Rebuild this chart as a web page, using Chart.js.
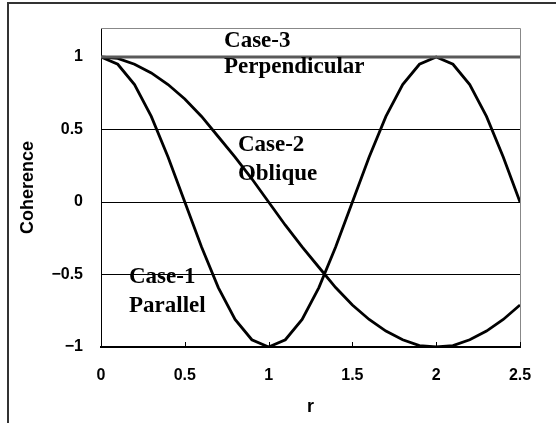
<!DOCTYPE html>
<html>
<head>
<meta charset="utf-8">
<script src="https://cdn.jsdelivr.net/npm/chart.js@4/dist/chart.umd.min.js"></script>
<style>
  body { margin: 0; background: #fff; }
  #wrap { position: relative; width: 556px; height: 423px; }
  #frame { position: absolute; left: 7px; top: 2px; right: 0; bottom: 0;
           border-left: 2px solid #333; border-top: 2px solid #333; }
  canvas { position: absolute; left: 0; top: 0; }
</style>
</head>
<body>
<div id="wrap">
  <div id="frame"></div>
  <canvas id="c" width="556" height="423"></canvas>
</div>
<script>
/* ===== DATA ===== */
const rVals = [0, 0.1, 0.2, 0.3, 0.4, 0.5, 0.6, 0.7, 0.8, 0.9, 1.0, 1.1, 1.2,
  1.3, 1.4, 1.5, 1.6, 1.7, 1.8, 1.9, 2.0, 2.1, 2.2, 2.3, 2.4, 2.5];
// Case-1 Parallel
const case1 = [1, 0.95, 0.81, 0.59, 0.31, 0, -0.31, -0.59, -0.81, -0.95, -1,
  -0.95, -0.81, -0.59, -0.31, 0, 0.31, 0.59, 0.81, 0.95, 1, 0.95, 0.81, 0.59,
  0.31, 0];
// Case-2 Oblique
const case2 = [1, 0.99, 0.95, 0.89, 0.81, 0.71, 0.59, 0.45, 0.31, 0.16, 0,
  -0.16, -0.31, -0.45, -0.59, -0.71, -0.81, -0.89, -0.95, -0.99, -1, -0.99,
  -0.95, -0.89, -0.81, -0.71];
// Case-3 Perpendicular
const case3 = [1, 1, 1, 1, 1, 1, 1, 1, 1, 1, 1, 1, 1, 1, 1, 1, 1, 1, 1, 1, 1,
  1, 1, 1, 1, 1];
const yTicks = [-1, -0.5, 0, 0.5, 1];
const xTicks = [0, 0.5, 1, 1.5, 2, 2.5];
/* ================ */

// curve labels, anchored in data units [r, coherence]
const notes = [
  { text: "Case-3", r: 0.734, v: 1.07 },
  { text: "Perpendicular", r: 0.734, v: 0.89 },
  { text: "Case-2", r: 0.817, v: 0.35 },
  { text: "Oblique", r: 0.817, v: 0.152 },
  { text: "Case-1", r: 0.167, v: -0.559 },
  { text: "Parallel", r: 0.167, v: -0.759 }
];

const pts = (ys) => rVals.map((r, i) => ({ x: r, y: ys[i] }));
const fmt = (v) => (v < 0 ? "\u2212" + Math.abs(v) : String(v));

const decor = {
  id: "decor",
  afterDatasetsDraw(chart) {
    const { ctx, chartArea: a, scales } = chart;
    ctx.save();
    // gray plot border (top, right)
    ctx.strokeStyle = "#888";
    ctx.lineWidth = 1;
    ctx.beginPath();
    ctx.moveTo(a.left, a.top + 0.5);
    ctx.lineTo(a.right + 0.5, a.top + 0.5);
    ctx.lineTo(a.right + 0.5, a.bottom);
    ctx.stroke();
    // inner tick marks on x axis
    ctx.strokeStyle = "#000";
    ctx.beginPath();
    xTicks.forEach((t) => {
      const px = Math.round(scales.x.getPixelForValue(t)) + 0.5;
      ctx.moveTo(px, a.bottom);
      ctx.lineTo(px, a.bottom - 5);
    });
    ctx.stroke();
    // labels
    ctx.fillStyle = "#000";
    ctx.font = "bold 23px 'Liberation Serif', 'Times New Roman', serif";
    ctx.textAlign = "left";
    ctx.textBaseline = "alphabetic";
    notes.forEach((n) => {
      ctx.fillText(n.text, scales.x.getPixelForValue(n.r), scales.y.getPixelForValue(n.v));
    });
    ctx.restore();
  }
};

Chart.defaults.font.family = "'Liberation Sans', Arial, sans-serif";
Chart.defaults.color = "#000";

new Chart(document.getElementById("c"), {
  type: "line",
  data: {
    datasets: [
      { label: "Case-3", data: pts(case3), borderColor: "#5a5a5a", borderWidth: 3 },
      { label: "Case-1", data: pts(case1), borderColor: "#000", borderWidth: 2.8 },
      { label: "Case-2", data: pts(case2), borderColor: "#000", borderWidth: 2.8 }
    ]
  },
  options: {
    responsive: false,
    animation: false,
    layout: { padding: { top: 28, right: 36, left: 0, bottom: 0 } },
    elements: { point: { radius: 0 }, line: { tension: 0 } },
    plugins: { legend: { display: false }, tooltip: { enabled: false } },
    scales: {
      x: {
        type: "linear",
        min: 0,
        max: 2.5,
        afterBuildTicks: (s) => { s.ticks = xTicks.map((v) => ({ value: v })); },
        afterFit: (s) => { s.height = 76; },
        ticks: { font: { size: 16, weight: "bold" }, padding: 19, callback: fmt },
        grid: { drawTicks: false, color: "rgba(0,0,0,0)" },
        border: { color: "#000", width: 2 },
        title: {
          display: true,
          text: "r",
          font: { size: 18, weight: "bold" },
          padding: { top: 0, bottom: 5 }
        }
      },
      y: {
        min: -1,
        max: 1.2,
        afterBuildTicks: (s) => { s.ticks = yTicks.map((v) => ({ value: v })); },
        afterFit: (s) => { s.width = 101; },
        ticks: { font: { size: 16, weight: "bold" }, padding: 18, callback: fmt },
        grid: {
          drawTicks: false,
          lineWidth: 1,
          color: (c) => (c.tick && c.tick.value === -1 ? "rgba(0,0,0,0)" : "#000")
        },
        border: { color: "#000", width: 1 },
        title: {
          display: true,
          text: "Coherence",
          font: { size: 18, weight: "bold" },
          padding: { top: 17, bottom: 0 }
        }
      }
    }
  },
  plugins: [decor]
});
</script>
</body>
</html>
